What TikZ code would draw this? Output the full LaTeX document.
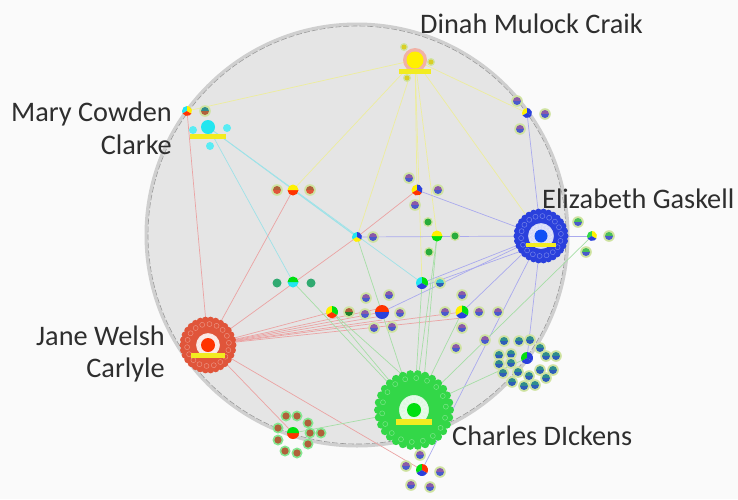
\documentclass[tikz,border=0pt]{standalone}
\usepackage{fontspec}
\setmainfont{Carlito}
\usetikzlibrary{calc}
\definecolor{bgc}{HTML}{FAFAFA}
\definecolor{discc}{HTML}{E5E5E5}
\definecolor{rimc}{HTML}{CFCFCF}
\definecolor{labc}{HTML}{2E2E2E}
\definecolor{yE}{HTML}{EDED9C}
\definecolor{cE}{HTML}{9EE2E8}
\definecolor{rE}{HTML}{EBA3A3}
\definecolor{bE}{HTML}{AAAAEE}
\definecolor{gE}{HTML}{A6DEA6}
\definecolor{yel}{HTML}{FFF000}
\definecolor{cya}{HTML}{22E6F0}
\definecolor{blu}{HTML}{2A40DC}
\definecolor{blc}{HTML}{1050F5}
\definecolor{red1}{HTML}{E0553A}
\definecolor{redc}{HTML}{FF3300}
\definecolor{grn}{HTML}{33D748}
\definecolor{grc}{HTML}{00E010}
\definecolor{pur}{HTML}{8A5AA8}
\definecolor{bl2}{HTML}{4A5ACC}
\definecolor{halo}{HTML}{CFE3A0}
\definecolor{teal1}{HTML}{2F8C8C}
\definecolor{teal2}{HTML}{2E5EB8}
\definecolor{brn}{HTML}{B0603A}
\definecolor{lbar}{HTML}{F2EC20}
\tikzset{
  edge/.style={line width=0.7pt},
  lab/.style={font=\fontsize{28.3}{30}\selectfont, text=labc, inner sep=0pt},
}
% satellite: name, top colour, bottom colour
\newcommand\sat[3]{%
  \fill[halo] (#1) circle (5.8pt);
  \fill[#2] ([shift={(0:4pt)}]#1) arc[start angle=0,end angle=180,radius=4pt] -- cycle;
  \fill[#3] ([shift={(180:4pt)}]#1) arc[start angle=180,end angle=360,radius=4pt] -- cycle;}
% pie: name, three colours, radius
\newcommand\pie[5]{%
  \fill[#2] (#1) -- ++(90:#5) arc[start angle=90,end angle=210,radius=#5] -- cycle;
  \fill[#3] (#1) -- ++(210:#5) arc[start angle=210,end angle=330,radius=#5] -- cycle;
  \fill[#4] (#1) -- ++(330:#5) arc[start angle=330,end angle=450,radius=#5] -- cycle;}
% ring cluster: name, colour, inner r, outer r, dot r
\newcommand\ringc[5]{%
  \fill[#2, even odd rule] (#1) circle (#4) (#1) circle (#3);
  \foreach \a in {0,12,...,348} \fill[#2] ([shift={(\a:#4)}]#1) circle (#5);
  \foreach \rr in {#3,#4} \foreach \a in {6,26,...,346} \draw[white, opacity=0.35, line width=0.5pt] ([shift={(\a:\rr-4pt)}]#1) circle (2.5pt);}
\begin{document}
\begin{tikzpicture}[x=1pt,y=-1pt]
\fill[bgc] (0,0) rectangle (738,499);
\useasboundingbox (0,0) rectangle (738,499);
% disc
\coordinate (ctr) at (357,235);
\fill[discc] (ctr) circle (211pt);
\draw[rimc, line width=3pt] (ctr) circle (211pt);
\draw[gray!80, line width=0.6pt, dash pattern=on 6pt off 2pt] (ctr) circle (209pt);

% node positions
\coordinate (dinah) at (415,60);
\coordinate (mary) at (208,127);
\coordinate (maryA) at (187,111);
\coordinate (maryB) at (205,111);
\coordinate (tr) at (527,113);
\coordinate (gask) at (541,236);
\coordinate (gaskP) at (592,236);
\coordinate (jane) at (208,345);
\coordinate (dick) at (414,410);
\coordinate (teal) at (527,358);
\coordinate (gr) at (293,433);
\coordinate (bot) at (422,470);
\coordinate (orange) at (293,190);
\coordinate (mid) at (357,237);
\coordinate (rb) at (417,190);
\coordinate (yg) at (437,236);
\coordinate (cg) at (293,282);
\coordinate (cb) at (422,283);
\coordinate (ygr) at (332,312);
\coordinate (purp) at (382,312);
\coordinate (multi) at (462,312);

% edges
\foreach \t in {maryA,orange,mid,yg,tr,gask,cb,rb} \draw[edge,yE] (dinah) -- (\t);
\foreach \t in {mid,cb,cg} \draw[edge,cE] (mary) -- (\t);
\draw[edge,cE] (orange) -- (mid);
\foreach \t in {maryA,orange,mid,ygr,purp,multi,gr,bot} \draw[edge,rE] (jane) -- (\t);
\foreach \d in {-4,4,8} \draw[edge,rE] (jane) -- ($(purp)+(0,\d)$);
\draw[edge,rE] (jane) -- ($(multi)+(0,6)$);
\draw[edge,rE] (mid) -- (rb);
\foreach \t in {mid,rb,tr,cb,purp,multi,teal,bot,gaskP} \draw[edge,bE] (gask) -- (\t);
\draw[edge,bE] ($(gask)+(0,8)$) -- ($(cb)+(4,2)$);
\foreach \t in {mid,cg,ygr,cb,yg,multi,teal,gr,gaskP} \draw[edge,gE] (dick) -- (\t);
\draw[edge,gE] ($(dick)+(-6,-30)$) -- (ygr);
\draw[edge,gE] ($(dick)+(10,-30)$) -- (yg);

% Dinah Mulock Craik
\fill[red1!45] (dinah) circle (12pt);
\fill[yel] (dinah) circle (8.5pt);
\fill[lbar] ($(dinah)+(-16,9)$) rectangle ($(dinah)+(16,13.5)$);
\coordinate (d1) at (404,47); \coordinate (d2) at (431,62); \coordinate (d3) at (407,78);
\foreach \n in {d1,d2,d3} {\fill[halo] (\n) circle (4pt); \fill[yel!70!gray] (\n) circle (2.5pt);}

% Mary Cowden Clarke
\fill[cya] (mary) circle (7pt);
\coordinate (m1) at (193,130); \coordinate (m2) at (227,128); \coordinate (m3) at (210,146);
\foreach \n in {m1,m2,m3} \fill[cya!75] (\n) circle (4pt);
\fill[lbar] ($(mary)+(-18,7)$) rectangle ($(mary)+(18,12)$);
\pie{maryA}{cya}{redc}{yel}{5pt}
\sat{maryB}{teal1}{brn}

% top right
\pie{tr}{yel}{blu}{blu}{5pt}
\coordinate (t1) at (517,101); \coordinate (t2) at (545,114); \coordinate (t3) at (520,129);
\foreach \n in {t1,t2,t3} \sat{\n}{pur}{bl2};

% Elizabeth Gaskell
\fill[blu!20] (gask) circle (13pt);
\ringc{gask}{blu}{13pt}{24pt}{3.5pt}
\fill[blc] (gask) circle (6.5pt);
\fill[lbar] ($(gask)+(-15,7)$) rectangle ($(gask)+(15,11)$);
\pie{gaskP}{grn}{blu}{yel}{5pt}
\coordinate (g1) at (578,222); \coordinate (g2) at (609,236); \coordinate (g3) at (586,252);
\foreach \n in {g1,g2,g3} \sat{\n}{grn!70!gray}{bl2};

% Jane Welsh Carlyle
\fill[red1!15] (jane) circle (12pt);
\ringc{jane}{red1}{12pt}{25pt}{3.5pt}
\fill[redc] (jane) circle (7pt);
\fill[lbar] ($(jane)+(-17,8)$) rectangle ($(jane)+(17,13)$);

% Charles Dickens
\fill[grn!15] (dick) circle (15pt);
\ringc{dick}{grn}{15pt}{36pt}{4pt}
\fill[grc] (dick) circle (7pt);
\fill[lbar] ($(dick)+(-18,9)$) rectangle ($(dick)+(18,15)$);

% teal cluster
\foreach \x/\y [count=\i] in {504/341,519/341,530/340,540/348,499/355,511/354,546/356,556/356,499/364,511/363,503/373,518/372,529/376,540/370,553/370,512/382,524/386,535/385,546/378}
  {\coordinate (tc\i) at (\x,\y); \sat{tc\i}{teal1}{teal2}}
\pie{teal}{grc}{blu}{blu}{6pt}

% green/red cluster
\foreach \x/\y [count=\i] in {286/416,297/416,308/423,278/428,310/433,321/433,278/440,308/444,285/451,297/453}
  {\coordinate (gc\i) at (\x,\y); \fill[grn!60] (gc\i) circle (5.5pt); \fill[brn] (gc\i) circle (3.6pt);}
\fill[redc] ([shift={(180:6pt)}]gr) arc[start angle=180,end angle=360,radius=6pt] -- cycle;
\fill[grc] ([shift={(0:6pt)}]gr) arc[start angle=0,end angle=180,radius=6pt] -- cycle;

% bottom cluster
\pie{bot}{grc}{blu}{redc}{6pt}
\foreach \x/\y [count=\i] in {420/455,406/466,440/472,411/485,430/487}
  {\coordinate (bc\i) at (\x,\y); \sat{bc\i}{pur}{bl2}}

% orange cluster
\fill[redc] ([shift={(180:5.5pt)}]orange) arc[start angle=180,end angle=360,radius=5.5pt] -- cycle;
\fill[yel] ([shift={(0:5.5pt)}]orange) arc[start angle=0,end angle=180,radius=5.5pt] -- cycle;
\coordinate (o1) at (277,190); \coordinate (o2) at (310,190);
\foreach \n in {o1,o2} \sat{\n}{brn}{red1};

% mid node
\pie{mid}{cya}{yel}{blu}{5pt}
\coordinate (mid1) at (373,237); \sat{mid1}{pur}{bl2}

% red/blue/yellow
\pie{rb}{yel}{redc}{blu}{5.5pt}
\coordinate (r1) at (409,178); \coordinate (r2) at (438,190); \coordinate (r3) at (415,205);
\foreach \n in {r1,r2,r3} \sat{\n}{pur}{bl2};

% yellow/green
\fill[grc] ([shift={(180:5.5pt)}]yg) arc[start angle=180,end angle=360,radius=5.5pt] -- cycle;
\fill[yel] ([shift={(0:5.5pt)}]yg) arc[start angle=0,end angle=180,radius=5.5pt] -- cycle;
\coordinate (y1) at (428,222); \coordinate (y2) at (455,236); \coordinate (y3) at (429,252);
\foreach \n in {y1,y2,y3} {\fill[halo] (\n) circle (5pt); \fill[grn!80!black] (\n) circle (3.5pt);}

% cyan/green
\fill[cya] ([shift={(180:5.5pt)}]cg) arc[start angle=180,end angle=360,radius=5.5pt] -- cycle;
\fill[grc] ([shift={(0:5.5pt)}]cg) arc[start angle=0,end angle=180,radius=5.5pt] -- cycle;
\coordinate (c1) at (277,283); \coordinate (c2) at (311,283);
\foreach \n in {c1,c2} \fill[teal1!60!grn] (\n) circle (4.5pt);

% cyan/blue
\pie{cb}{cya}{blu}{grc}{6pt}
\coordinate (cb1) at (440,283); \sat{cb1}{cya!70!gray}{teal2}

% yellow/green/red
\pie{ygr}{yel}{redc}{grc}{6pt}
\coordinate (ygr1) at (349,312); \sat{ygr1}{brn}{grn!60!black}

% purple cluster
\fill[redc] ([shift={(0:7pt)}]purp) arc[start angle=0,end angle=180,radius=7pt] -- cycle;
\fill[blu] ([shift={(180:7pt)}]purp) arc[start angle=180,end angle=360,radius=7pt] -- cycle;
\foreach \x/\y [count=\i] in {366/298,389/295,365/314,400/313,374/328,392/327}
  {\coordinate (pc\i) at (\x,\y); \sat{pc\i}{pur}{bl2}}

% multi cluster
\pie{multi}{yel}{blu}{grc}{6.5pt}
\foreach \x/\y [count=\i] in {445/312,479/312,498/312,462/295,462/328,456/348,485/340}
  {\coordinate (mc\i) at (\x,\y); \sat{mc\i}{pur}{bl2}}

% labels
\node[lab, anchor=base west] (lDinah) at (420,33) {Dinah Mulock Craik};
\node[lab, anchor=base east] (lMary1) at (172,121) {Mary Cowden};
\node[lab, anchor=base east] (lMary2) at (172,154) {Clarke};
\node[lab, anchor=base west] (lGask) at (542,208) {Elizabeth Gaskell};
\node[lab, anchor=base east] (lJane1) at (165,345) {Jane Welsh};
\node[lab, anchor=base east] (lJane2) at (165,377) {Carlyle};
\node[lab, anchor=base west] (lDick) at (452,445) {Charles DIckens};
\end{tikzpicture}
\end{document}
